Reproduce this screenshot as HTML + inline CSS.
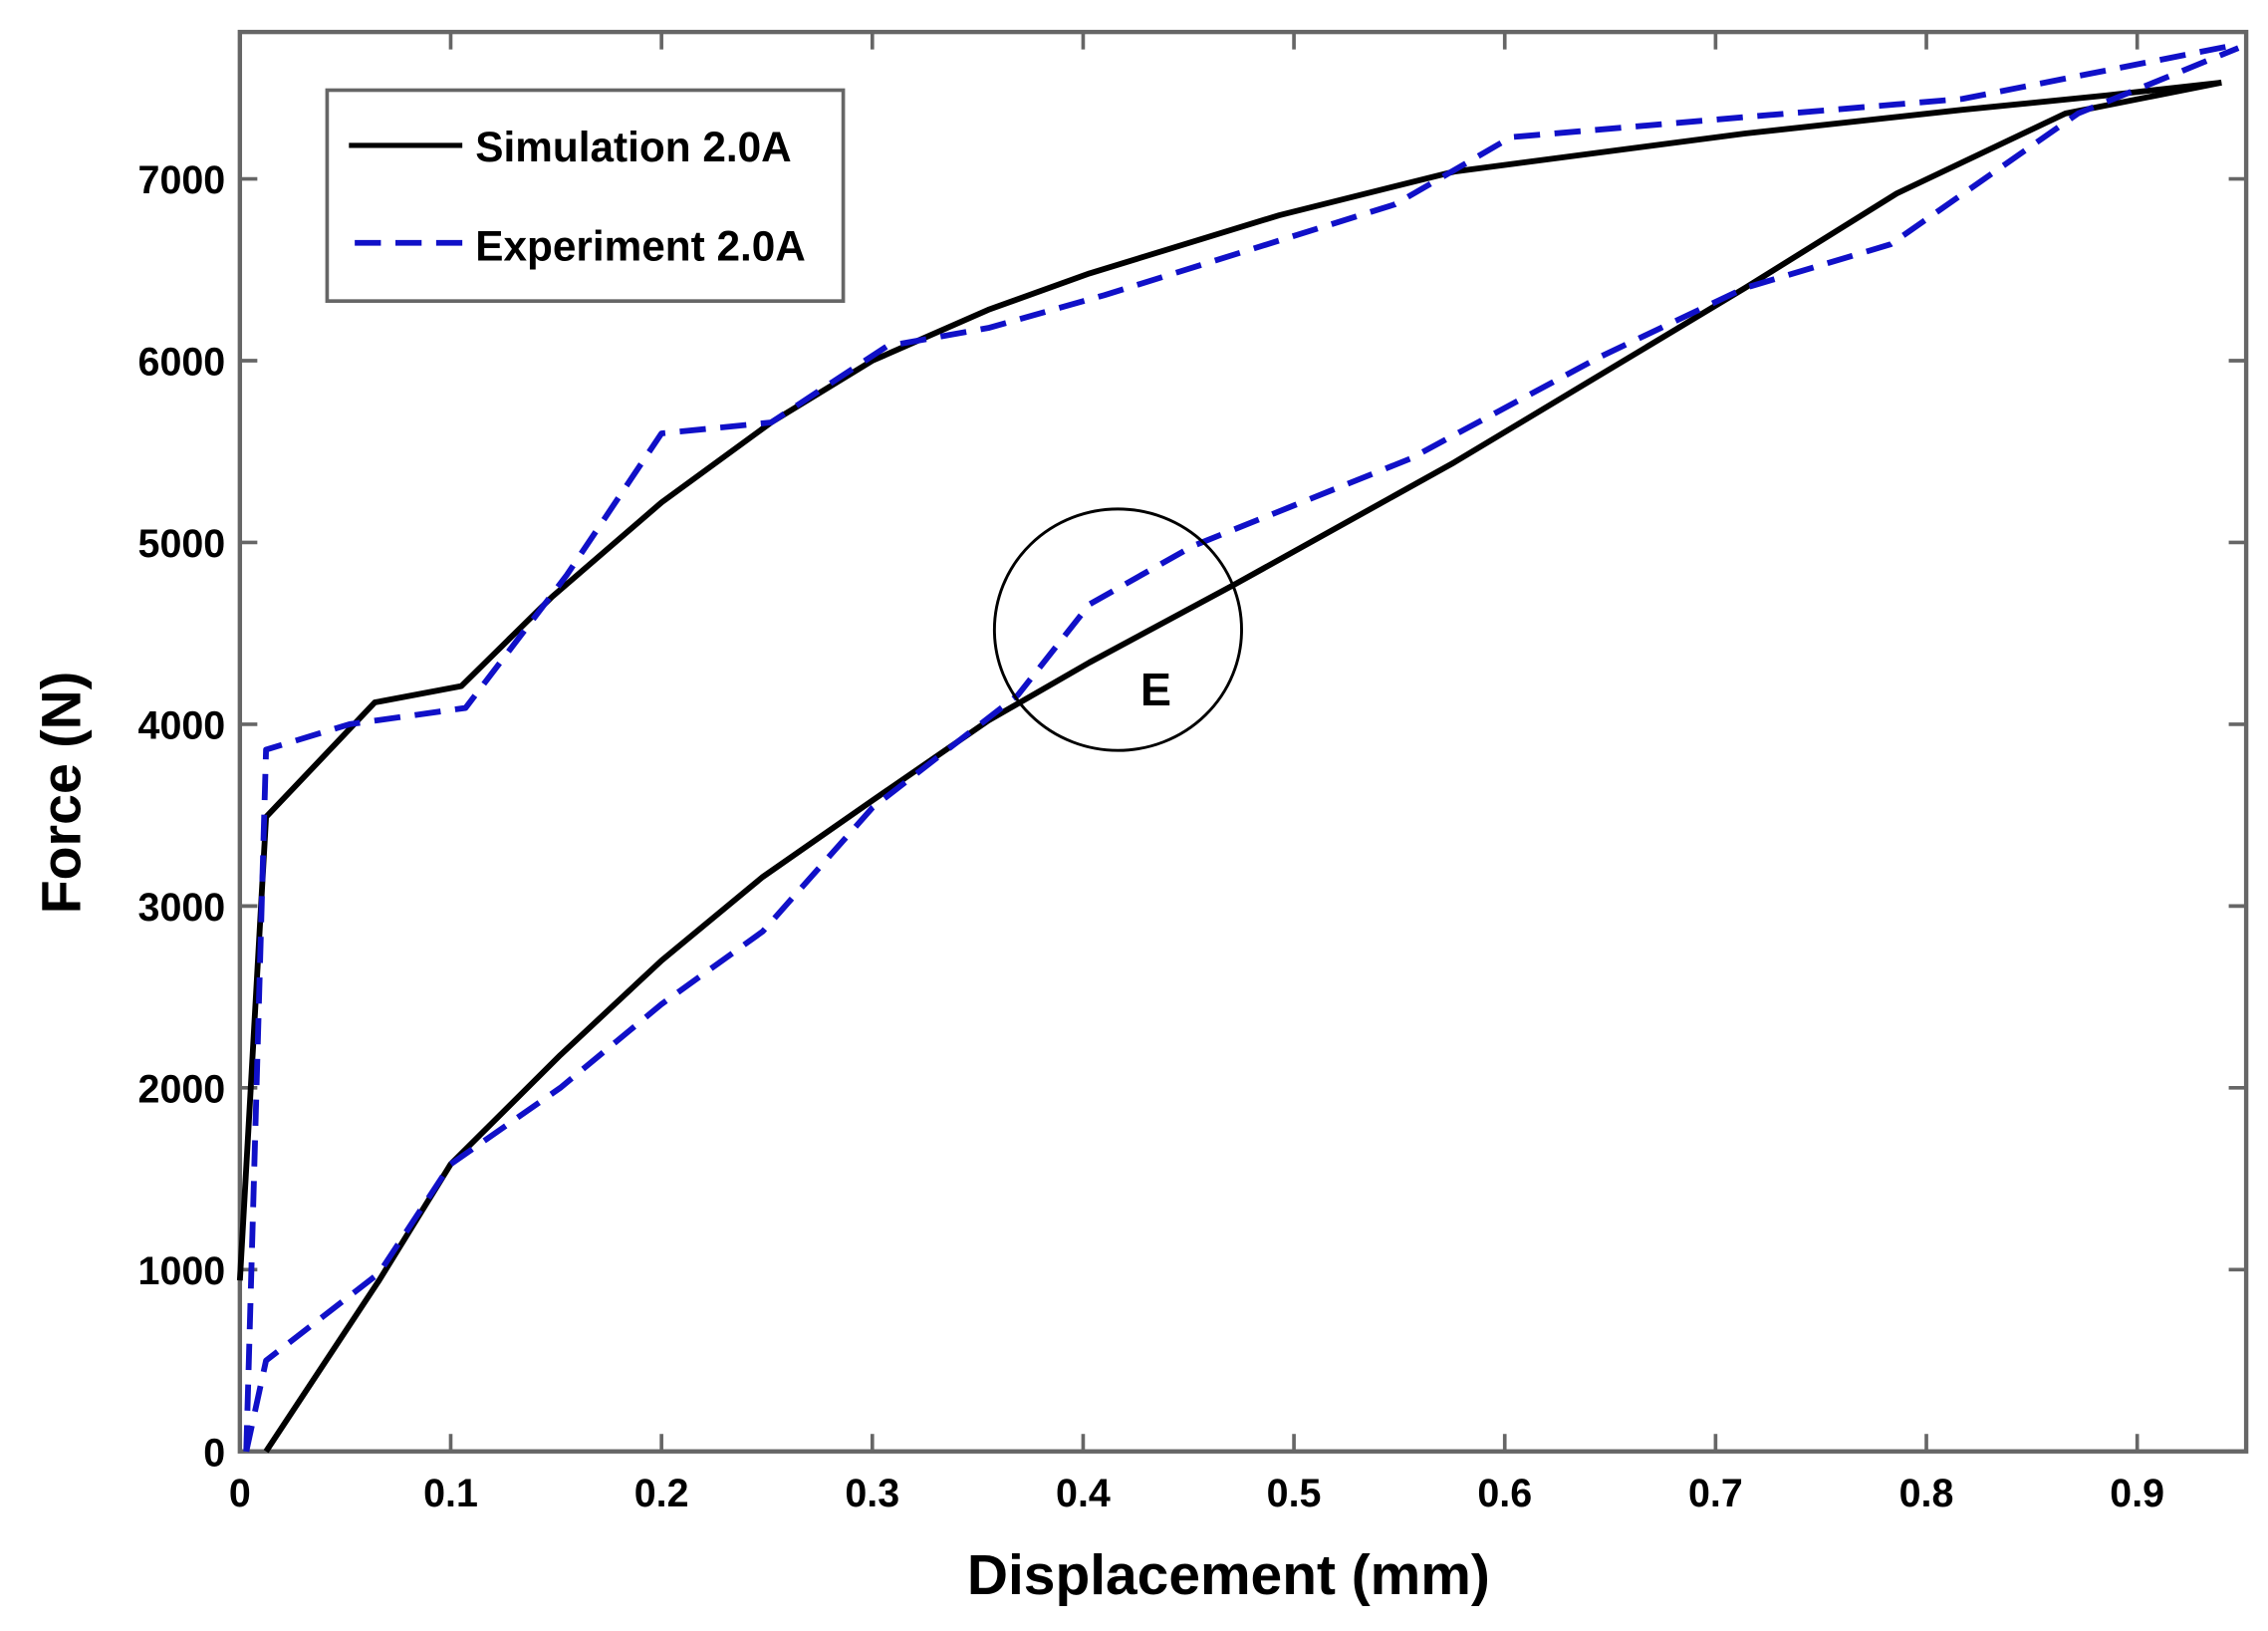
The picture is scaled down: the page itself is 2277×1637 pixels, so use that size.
<!DOCTYPE html>
<html><head><meta charset="utf-8"><style>
html,body{margin:0;padding:0;background:#fff;}
svg{display:block;font-family:"Liberation Sans",Arial,sans-serif;}
</style></head><body>
<svg id="chart" width="2277" height="1637" viewBox="0 0 1560 1121.5" preserveAspectRatio="none" xmlns="http://www.w3.org/2000/svg">
<rect width="1560" height="1121.5" fill="#fff"/>
<g id="plot"></g>
</svg>
<script>
const xTicks=[0,0.1,0.2,0.3,0.4,0.5,0.6,0.7,0.8,0.9];
const xTickLabels=["0","0.1","0.2","0.3","0.4","0.5","0.6","0.7","0.8","0.9"];
const yTicks=[0,1000,2000,3000,4000,5000,6000,7000];
const yTickLabels=["0","1000","2000","3000","4000","5000","6000","7000"];
const simLoadX=[0,0.0124,0.064,0.105,0.148,0.2,0.252,0.3,0.355,0.403,0.493,0.576,0.714,0.817,0.886,0.94];
const simLoadY=[940,3490,4120,4210,4700,5220,5660,6000,6280,6480,6800,7040,7250,7380,7460,7530];
const simUnloadX=[0.0124,0.066,0.1,0.152,0.2,0.248,0.3,0.355,0.403,0.472,0.576,0.714,0.786,0.866,0.94];
const simUnloadY=[0,940,1580,2180,2700,3160,3580,4020,4340,4770,5440,6400,6920,7360,7530];
const expLoadX=[0.003,0.0124,0.052,0.107,0.155,0.2,0.252,0.307,0.355,0.41,0.548,0.603,0.714,0.817,0.948];
const expLoadY=[0,3860,4000,4090,4820,5600,5660,6080,6180,6360,6860,7230,7340,7440,7740];
const expUnloadX=[0.003,0.0124,0.066,0.1,0.152,0.2,0.248,0.3,0.369,0.403,0.452,0.555,0.645,0.714,0.783,0.872,0.948];
const expUnloadY=[0,500,980,1580,2000,2460,2860,3540,4160,4660,4980,5460,6020,6400,6640,7360,7720];

const L=165,R=1545,T=22,B=998,XMAX=0.9517,YMAX=7808;
const sx=v=>L+(v/XMAX)*(R-L);
const sy=v=>B-(v/YMAX)*(B-T);
const NS="http://www.w3.org/2000/svg";
const g=document.getElementById('plot');
function mk(tag,attrs,parent){const e=document.createElementNS(NS,tag);for(const k in attrs)e.setAttribute(k,attrs[k]);(parent||g).appendChild(e);return e;}

let box=mk('rect',{x:L,y:T,width:R-L,height:B-T,fill:'none',stroke:'#666','stroke-width':3});



xTicks.forEach((v,i)=>{
  const x=sx(v);
  let t1=mk('line',{x1:x,y1:B,x2:x,y2:B-12,stroke:'#666','stroke-width':2.5});
  
  
  let t2=mk('line',{x1:x,y1:T,x2:x,y2:T+12,stroke:'#666','stroke-width':2.5});
  
  
  let tx=mk('text',{x:x,y:B+38,'text-anchor':'middle','font-size':27,'font-weight':'bold',fill:'#000'});
  tx.textContent=xTickLabels[i];
  
  
});
yTicks.forEach((v,i)=>{
  const y=sy(v);
  let t1=mk('line',{x1:L,y1:y,x2:L+12,y2:y,stroke:'#666','stroke-width':2.5});
  
  
  let t2=mk('line',{x1:R,y1:y,x2:R-12,y2:y,stroke:'#666','stroke-width':2.5});
  
  
  let tx=mk('text',{x:L-10,y:y+10,'text-anchor':'end','font-size':27,'font-weight':'bold',fill:'#000'});
  tx.textContent=yTickLabels[i];
  
  
});

function series(xs,ys,color,dash,name){
  const d=xs.map((v,i)=>(i?'L':'M')+sx(v).toFixed(1)+','+sy(ys[i]).toFixed(1)).join(' ');
  const p=mk('path',{d:d,fill:'none',stroke:color,'stroke-width':4,'stroke-linejoin':'round'});
  if(dash)p.setAttribute('stroke-dasharray',dash);
  
  
}
series(simLoadX,simLoadY,'#000',null,'simulation-loading-line');
series(simUnloadX,simUnloadY,'#000',null,'simulation-unloading-line');
series(expLoadX,expLoadY,'#1010c8','18,10','experiment-loading-line');
series(expUnloadX,expUnloadY,'#1010c8','18,10','experiment-unloading-line');

let c=mk('ellipse',{cx:769,cy:433,rx:85,ry:83,fill:'none',stroke:'#000','stroke-width':2});


let e=mk('text',{x:795,y:485,'text-anchor':'middle','font-size':32,'font-weight':'bold',fill:'#000'});
e.textContent='E';



let lg=mk('g',{});


let lb=mk('rect',{x:225,y:62,width:355,height:145,fill:'#fff',stroke:'#666','stroke-width':2.5},lg);


let l1=mk('line',{x1:240,y1:100,x2:318,y2:100,stroke:'#000','stroke-width':3.5},lg);


let t1=mk('text',{x:327,y:111,'font-size':29,'font-weight':'bold',fill:'#000'},lg);
t1.textContent='Simulation 2.0A';


let l2=mk('line',{x1:244,y1:167,x2:318,y2:167,stroke:'#1010c8','stroke-width':4,'stroke-dasharray':'18,10'},lg);


let t2=mk('text',{x:327,y:179,'font-size':29,'font-weight':'bold',fill:'#000'},lg);
t2.textContent='Experiment 2.0A';



let xt=mk('text',{x:845,y:1096,'text-anchor':'middle','font-size':39,'font-weight':'bold',fill:'#000'});
xt.textContent='Displacement (mm)';


let yt=mk('text',{x:0,y:0,'text-anchor':'middle','font-size':38,'font-weight':'bold',fill:'#000',transform:'translate(55,545) rotate(-90)'});
yt.textContent='Force (N)';


</script>
</body></html>
